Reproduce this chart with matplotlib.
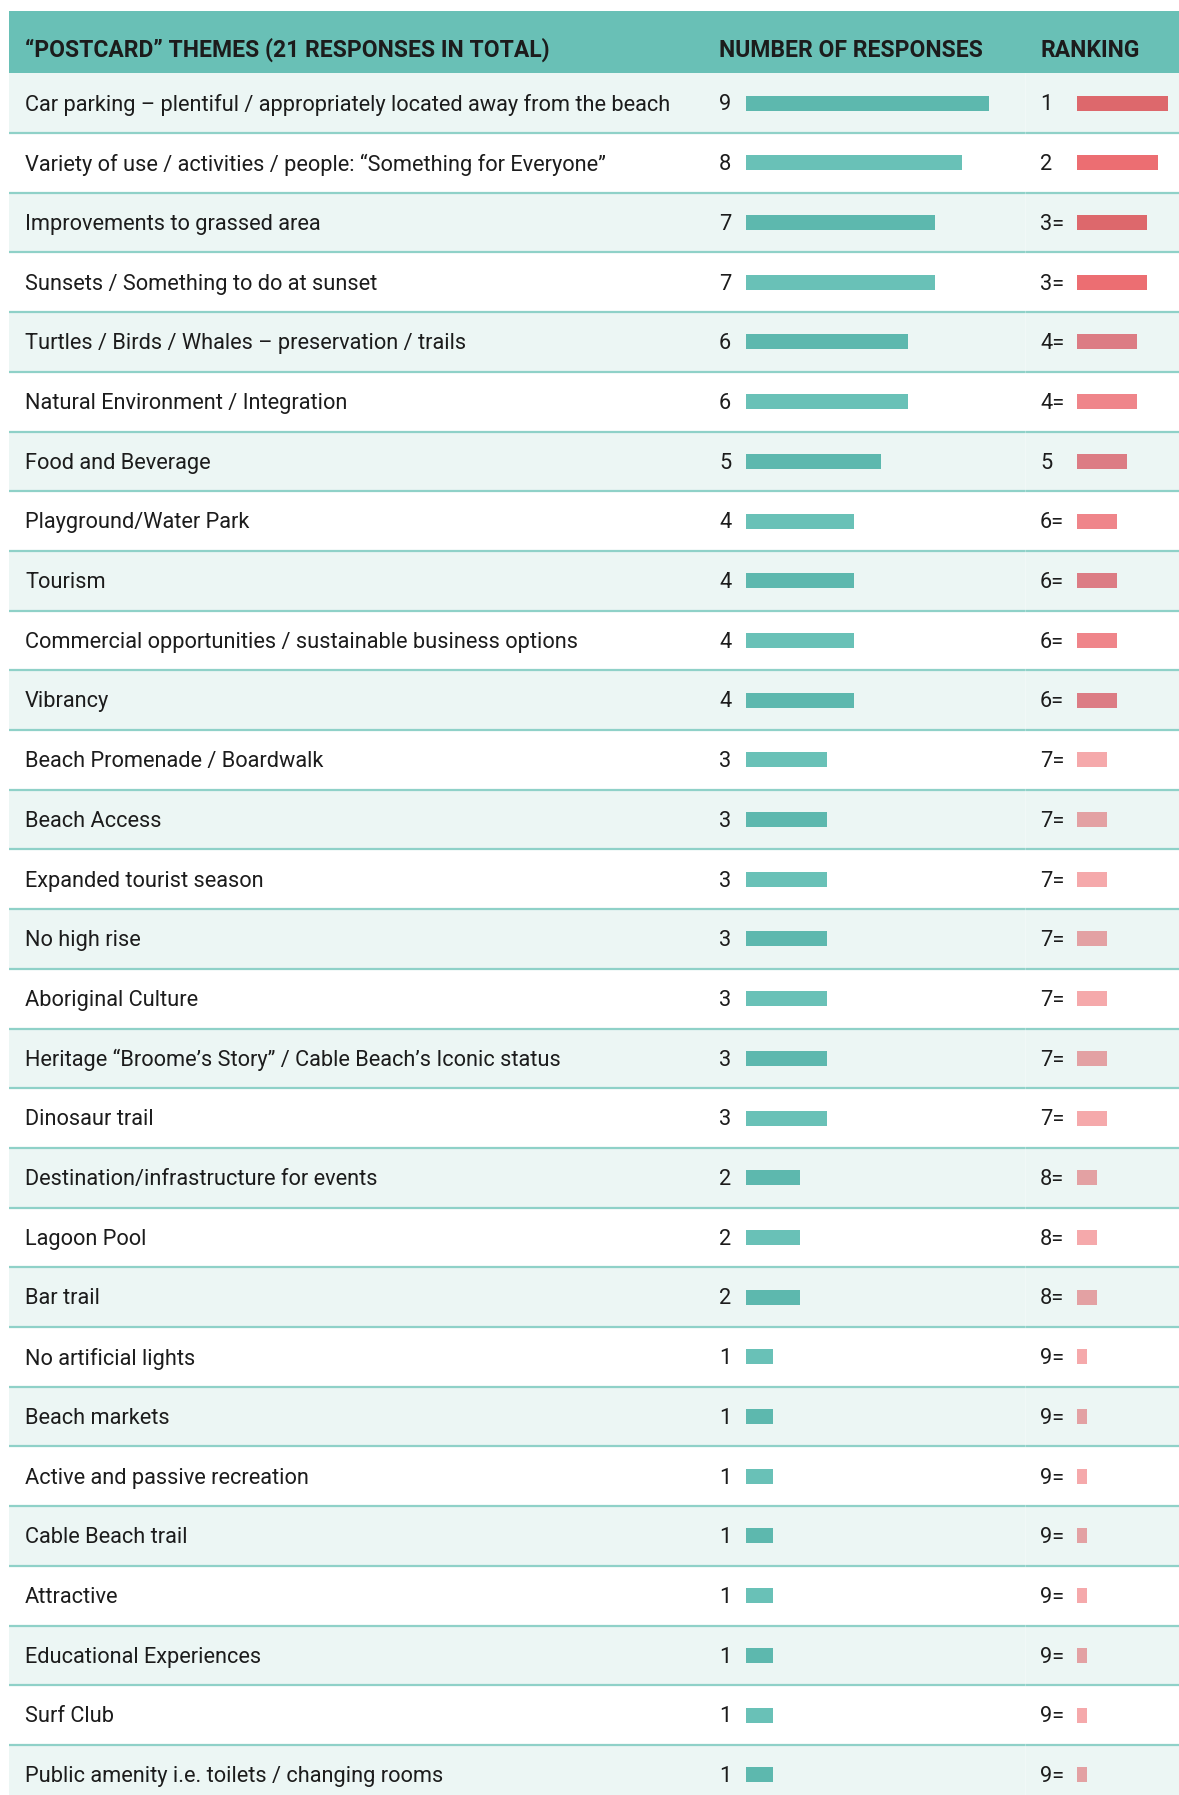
import numpy as np
import matplotlib.pyplot as plt
from matplotlib.patches import Rectangle

plt.rcParams['font.family'] = ['Roboto', 'DejaVu Sans']

themes = [
    "Car parking \u2013 plentiful / appropriately located away from the beach",
    "Variety of use / activities / people: \u201cSomething for Everyone\u201d",
    "Improvements to grassed area",
    "Sunsets / Something to do at sunset",
    "Turtles / Birds / Whales \u2013 preservation / trails",
    "Natural Environment / Integration",
    "Food and Beverage",
    "Playground/Water Park",
    "Tourism",
    "Commercial opportunities / sustainable business options",
    "Vibrancy",
    "Beach Promenade / Boardwalk",
    "Beach Access",
    "Expanded tourist season",
    "No high rise",
    "Aboriginal Culture",
    "Heritage \u201cBroome\u2019s Story\u201d / Cable Beach\u2019s Iconic status",
    "Dinosaur trail",
    "Destination/infrastructure for events",
    "Lagoon Pool",
    "Bar trail",
    "No artificial lights",
    "Beach markets",
    "Active and passive recreation",
    "Cable Beach trail",
    "Attractive",
    "Educational Experiences",
    "Surf Club",
    "Public amenity i.e. toilets / changing rooms",
]
responses = [9, 8, 7, 7, 6, 6, 5, 4, 4, 4, 4, 3, 3, 3, 3, 3, 3, 3, 2, 2, 2,
             1, 1, 1, 1, 1, 1, 1, 1]
rank_labels = ["1", "2", "3=", "3=", "4=", "4=", "5", "6=", "6=", "6=", "6=",
               "7=", "7=", "7=", "7=", "7=", "7=", "7=", "8=", "8=", "8=",
               "9=", "9=", "9=", "9=", "9=", "9=", "9=", "9="]
headers = ["\u201cPOSTCARD\u201d THEMES (21 RESPONSES IN TOTAL)",
           "NUMBER OF RESPONSES", "RANKING"]

ranks = np.array([int(r.rstrip("=")) for r in rank_labels])
n = len(themes)

# colours
header_col = "#69c0b6"
light_row = "#ecf6f4"
sep_col = "#8fd1c8"
teal = {0: "#5db8ae", 1: "#69c1b7"}          # light row / white row
red = {0: ["#dd686c", "#dc7c84", "#e3a1a3"],  # ranks 1-3, 4-6, 7-9
       1: ["#ec6e72", "#ef858a", "#f5a9ab"]}
txt = "#1c1c1c"

# layout (pixels)
W, H = 1179, 1795
left = 9
head_top, head_bot, row_h = 11.4, 73.3, 59.7
fs, hfs = 15.7, 16.5

fig = plt.figure(figsize=(W / 100, H / 100), dpi=100)
ax = fig.add_axes([0, 0, 1, 1])
ax.set_xlim(0, W)
ylim = ((H - head_bot) / row_h, -head_bot / row_h)
ax.set_ylim(*ylim)
ax.axis("off")

# header
ax.add_patch(Rectangle((left, (head_top - head_bot) / row_h), W - left,
                       (head_bot - head_top) / row_h, color=header_col, lw=0))
hy = -0.39
ax.text(25, hy, headers[0], fontsize=hfs, fontweight="bold", color=txt, va="center")
ax.text(719, hy, headers[1], fontsize=hfs, fontweight="bold", color=txt, va="center")
ax.text(1040, hy, headers[2], fontsize=hfs, fontweight="bold", color=txt, va="center")

# rows
for i in range(n):
    if i % 2 == 0:
        ax.add_patch(Rectangle((left, i), W - left, 1, color=light_row, lw=0))
    ax.plot([left, W], [i + 1, i + 1], color=sep_col, lw=1.6, solid_capstyle="butt")
    yc = i + 0.53
    ax.text(25, yc, themes[i], fontsize=fs, color=txt, va="center")
    ax.text(719, yc, str(responses[i]), fontsize=fs, color=txt, va="center")
    ax.text(1040, yc, rank_labels[i], fontsize=fs, color=txt, va="center")

ax.plot([1025, 1025], [0, ylim[0]], color="white", lw=0.6, alpha=0.35)

yc = np.arange(n) + 0.5
parity = np.arange(n) % 2

# response bars
ax_num = fig.add_axes([746 / W, 0, 269.7 / W, 1])
ax_num.set_xlim(0, 10)
ax_num.set_ylim(*ylim)
ax_num.axis("off")
ax_num.barh(yc, responses, height=0.25, color=[teal[p] for p in parity])

# ranking bars (longer = better rank)
ax_rank = fig.add_axes([1077 / W, 0, 100.7 / W, 1])
ax_rank.set_xlim(0, 10)
ax_rank.set_ylim(*ylim)
ax_rank.axis("off")
rank_cols = [red[p][(r - 1) // 3] for p, r in zip(parity, ranks)]
ax_rank.barh(yc, 10 - ranks, height=0.25, color=rank_cols)

fig.savefig("out.png", dpi=100)
